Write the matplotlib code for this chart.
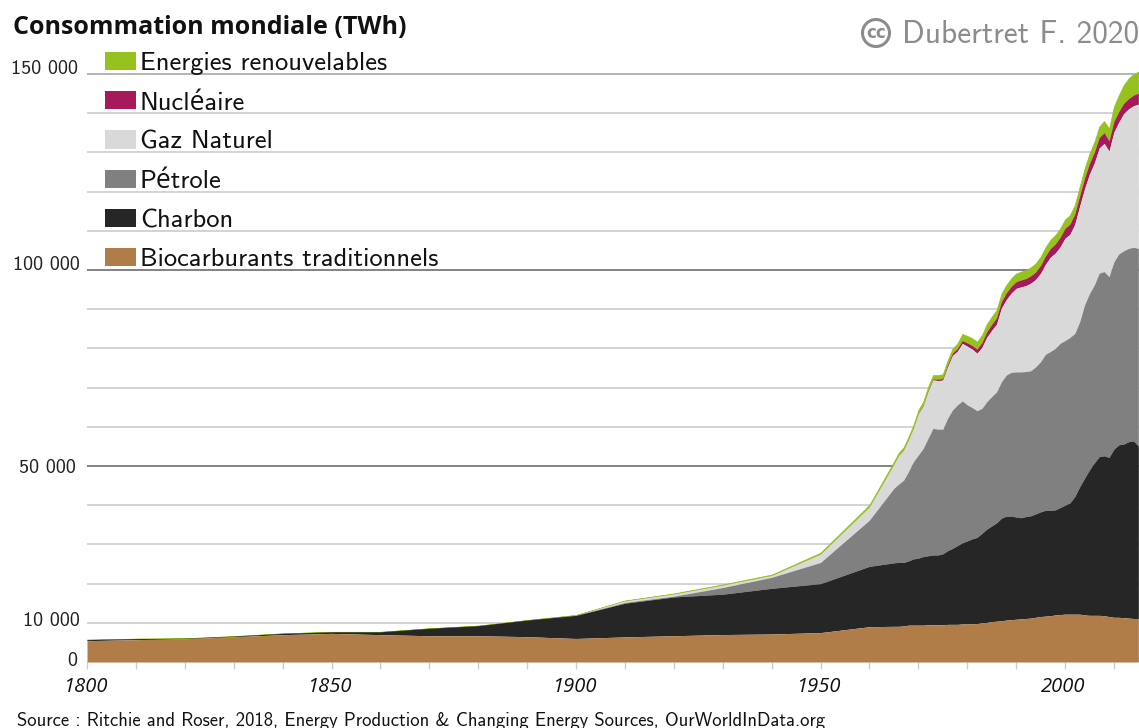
import numpy as np
import matplotlib
matplotlib.use("Agg")
import matplotlib.pyplot as plt
from matplotlib.patches import Patch, Circle
from matplotlib.transforms import ScaledTranslation

W, H = 1139, 728
annees = list(range(1800, 1961, 10)) + list(range(1965, 2016))

# Cumulative levels (thousand TWh)
bio_debut = [5.44, 5.7, 5.95, 6.46, 6.97, 7.3, 6.97, 6.7, 6.7, 6.46, 6.0, 6.4, 6.7, 7.0, 7.14, 7.5, 9.0]
bio_fin = [9.1, 9.1, 9.2, 9.4, 9.4, 9.4, 9.4, 9.5, 9.5, 9.5, 9.5, 9.6, 9.6, 9.6, 9.7, 9.7, 9.8, 9.8, 10.0, 10.1,
           10.3, 10.4, 10.5, 10.7, 10.8, 10.9, 11.0, 11.1, 11.2, 11.4, 11.6, 11.7, 11.8, 12.0, 12.1, 12.2, 12.2,
           12.2, 12.2, 12.0, 11.9, 11.9, 11.9, 11.8, 11.6, 11.4, 11.4, 11.3, 11.2, 11.1, 11.1]
charbon_debut = [5.7, 5.95, 6.05, 6.6, 7.3, 7.7, 7.7, 8.6, 9.27, 10.7, 11.9, 15.0, 16.6, 17.3, 18.8, 20.0, 24.4]
charbon_fin = [25.3, 25.4, 25.4, 25.8, 26.3, 26.5, 26.9, 27.1, 27.3, 27.3, 27.6, 28.4, 29.0, 29.7, 30.4, 30.9, 31.4,
               31.8, 32.8, 33.9, 34.7, 35.5, 36.7, 37.2, 37.2, 37.0, 36.8, 37.1, 37.3, 37.8, 38.3, 38.7, 38.7, 38.8,
               39.4, 40.0, 40.6, 42.2, 44.7, 46.9, 49.0, 50.8, 52.4, 52.6, 52.2, 54.3, 55.4, 55.6, 56.2, 56.4, 55.1]
petrole_debut = [5.7, 5.95, 6.05, 6.6, 7.3, 7.7, 7.7, 8.6, 9.27, 10.7, 11.9, 15.2, 16.8, 19.0, 21.6, 25.4, 36.2]
petrole_fin = [44.3, 45.4, 46.4, 48.6, 51.1, 52.8, 54.5, 57.1, 59.6, 59.4, 59.4, 62.2, 64.3, 65.6, 66.6, 65.6, 64.9,
               64.1, 64.7, 66.4, 67.7, 68.9, 71.5, 73.2, 73.9, 74.0, 74.0, 74.1, 74.3, 75.3, 76.6, 78.5, 79.2, 80.0,
               81.3, 82.0, 82.8, 83.8, 86.8, 91.1, 94.0, 96.2, 99.2, 99.6, 98.3, 102.1, 104.1, 104.9, 105.5, 105.8, 105.5]
total_debut = [5.7, 5.95, 6.05, 6.6, 7.3, 7.7, 7.7, 8.6, 9.27, 10.7, 12.0, 15.7, 17.5, 19.8, 22.3, 27.9, 40.1]
total_fin = [51.1, 53.4, 54.8, 57.5, 60.5, 64.3, 66.4, 70.2, 73.2, 73.2, 73.4, 77.0, 80.0, 81.3, 83.7, 83.2, 82.6,
             81.7, 83.4, 86.2, 88.1, 89.8, 94.0, 96.2, 97.9, 99.1, 99.6, 100.0, 100.7, 101.7, 103.4, 105.8, 107.7,
             108.9, 110.6, 112.9, 114.0, 116.6, 121.3, 125.9, 129.7, 132.7, 136.6, 138.0, 136.1, 141.7, 144.6, 147.2,
             148.9, 150.0, 150.6]
renouvelables_debut = [0, 0, 0, 0, 0, 0, 0, 0, 0, 0, 0.03, 0.1, 0.15, 0.2, 0.25, 0.4, 0.55]
renouvelables_fin = [0.7, 0.72, 0.75, 0.8, 0.85, 0.9, 0.95, 1.0, 1.0, 1.05, 1.1, 1.15, 1.2, 1.3, 1.7, 1.8, 1.85,
                     1.9, 1.95, 2.0, 2.0, 2.0, 2.05, 2.05, 2.1, 2.1, 2.15, 2.2, 2.2, 2.2, 2.25, 2.25, 2.25, 2.3, 2.3,
                     2.3, 2.3, 2.35, 2.4, 2.5, 2.55, 2.65, 2.8, 3.0, 3.2, 3.8, 4.2, 4.7, 5.2, 5.4, 5.5]
nucleaire_debut = [0] * 17
nucleaire_fin = [0.01, 0.02, 0.03, 0.05, 0.07, 0.1, 0.15, 0.2, 0.25, 0.35, 0.4, 0.5, 0.6, 0.7, 0.75, 0.85, 0.95,
                 1.05, 1.2, 1.35, 1.5, 1.6, 1.65, 1.7, 1.7, 1.7, 1.75, 1.8, 1.85, 1.9, 2.0, 2.1, 2.2, 2.3, 2.4,
                 2.5, 2.6, 2.6, 2.6, 2.7, 2.7, 2.75, 2.7, 2.7, 2.6, 2.7, 2.7, 2.6, 2.6, 2.7, 2.8]

etiquettes = ["Energies renouvelables", "Nucléaire", "Gaz Naturel", "Pétrole", "Charbon", "Biocarburants traditionnels"]
couleurs = ["#96C11F", "#A6195B", "#D9D9D9", "#808080", "#262626", "#B07D48"]
y_ticks = list(range(0, 150001, 10000))
y_labels = {0: "0", 10000: "10 000", 50000: "50 000", 100000: "100 000", 150000: "150 000"}
x_ticks = list(range(1800, 2011, 10))
x_labels = {1800: "1800", 1850: "1850", 1900: "1900", 1950: "1950", 2000: "2000"}

x = np.array(annees)
k = 1000.0
bio = np.array(bio_debut + bio_fin) * k
charbon = np.array(charbon_debut + charbon_fin) * k
petrole = np.array(petrole_debut + petrole_fin) * k
total = np.array(total_debut + total_fin) * k
ren = np.array(renouvelables_debut + renouvelables_fin) * k
nuc = np.array(nucleaire_debut + nucleaire_fin) * k
haut_nuc = total - ren
gaz = haut_nuc - nuc

CM = ["cmss10", "Open Sans"]
fig = plt.figure(figsize=(W / 100, H / 100), dpi=100)
left, right, bot, top = 87, 1139, 662, 60
ax = fig.add_axes([left / W, 1 - bot / H, (right - left) / W, (bot - top) / H])
ax.set_xlim(1800, 1800 + (right - left) / 4.89)
ax.set_ylim(0, 150000 * (bot - top) / 588)
for s in ax.spines.values():
    s.set_visible(False)

for v in y_ticks:
    c = {0: "#cfc8bd", 50000: "#606060", 100000: "#606060", 150000: "#a0a0a0"}.get(v, "#c8c8c8")
    ax.axhline(v, color=c, lw=1.1, zorder=1)

niveaux = [(haut_nuc, total), (gaz, haut_nuc), (petrole, gaz), (charbon, petrole), (bio, charbon), (0 * bio, bio)]
for (bas, haut), c in zip(niveaux, couleurs):
    ax.fill_between(x, bas, haut, color=c, lw=0.5 if c == "#96C11F" else 0, zorder=2)

ax.set_xticks(x_ticks)
ax.set_xticklabels([x_labels.get(t, "") for t in x_ticks], fontfamily="Open Sans", style="italic", fontsize=14.5, color="#111111")
ax.tick_params(axis="x", length=5, width=1, color="#cccccc", pad=6)
for lab in ax.get_xticklabels():
    lab.set_transform(lab.get_transform() + ScaledTranslation(-2 / 100, 0, fig.dpi_scale_trans))
ax.set_yticks(y_ticks)
ax.set_yticklabels([y_labels.get(t, "") for t in y_ticks], fontfamily=CM, fontsize=14.5, color="#222222")
ax.tick_params(axis="y", length=0, pad=4)
decal = {0: 3, 10000: 4, 50000: 0, 100000: 7, 150000: 7}
decal_x = {0: -4, 10000: -2, 50000: -6, 100000: -2, 150000: -3}
for t, lab in zip(y_ticks, ax.get_yticklabels()):
    lab.set_transform(lab.get_transform() + ScaledTranslation(decal_x.get(t, 0) / 100, decal.get(t, 0) / 100, fig.dpi_scale_trans))

def fx(p): return p / W
def fy(p): return 1 - p / H

handles = [Patch(facecolor=c, edgecolor="none") for c in couleurs]
F = 19.1
px = F * 100 / 72
leg = ax.legend(handles, etiquettes, loc="upper left", bbox_to_anchor=(fx(105), fy(52)), bbox_transform=fig.transFigure,
                frameon=False, borderpad=0, borderaxespad=0, handlelength=31 / px, handleheight=18 / px,
                handletextpad=4 / px, labelspacing=0.595, prop={"family": CM, "size": F})
for t in leg.get_texts():
    t.set_color("#111111")

fig.text(fx(13), fy(27), "Consommation mondiale (TWh)", fontfamily="Open Sans", fontweight="bold", fontsize=18, va="center", color="#111111")
fig.text(fx(17), fy(720.5), "Source : Ritchie and Roser, 2018, Energy Production & Changing Energy Sources, OurWorldInData.org",
         fontfamily=CM, fontsize=13.45, va="center", color="#111111")
fig.text(fx(902), fy(34), "Dubertret F. 2020", fontfamily=CM, fontsize=22.6, va="center", color="#8c8c8c")
fig.add_artist(Circle((876, H - 33), 13.5, transform=None, fill=False, ec="#8c8c8c", lw=2.2))
fig.text(fx(876), fy(33), "cc", fontfamily="DejaVu Sans", fontweight="bold", fontsize=12, ha="center", va="center", color="#8c8c8c")

fig.savefig("out.png", dpi=100)
